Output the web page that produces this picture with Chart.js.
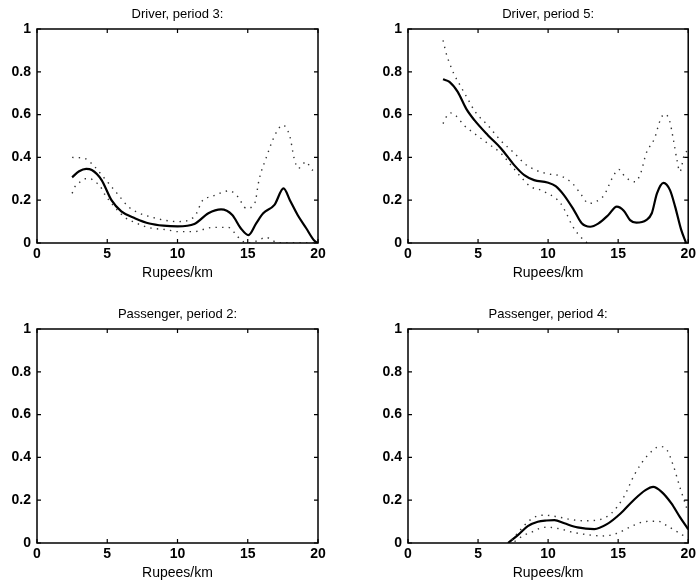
<!DOCTYPE html>
<html lang="en">
<head>
    <meta charset="UTF-8">
    <title>Fare response curves</title>
    <style>
        body { margin: 0; background: #fff; }
        #wrap { position: relative; width: 699px; height: 587px; }
        canvas.panel { position: absolute; }
    </style>
    <script src="https://cdn.jsdelivr.net/npm/chart.js"></script>
</head>
<body>
<div id="wrap">
    <canvas id="p1" class="panel" style="left:0;top:0" width="349" height="287"></canvas>
    <canvas id="p2" class="panel" style="left:349px;top:0" width="350" height="287"></canvas>
    <canvas id="p3" class="panel" style="left:0;top:300px" width="349" height="287"></canvas>
    <canvas id="p4" class="panel" style="left:349px;top:300px" width="350" height="287"></canvas>
</div>
<script>
    // Driver, period 3
    const dp3MidX = [2.5, 3, 3.5, 3.9, 4.6, 5.3, 6, 7, 8, 9, 10, 11.2, 12.2, 13.1, 13.9, 14.5, 15.05, 15.6, 16.1, 16.9, 17.55, 18, 18.55, 19.15, 19.75, 20];
    const dp3Mid  = [0.307, 0.335, 0.346, 0.341, 0.294, 0.20, 0.148, 0.115, 0.091, 0.081, 0.078, 0.089, 0.139, 0.157, 0.131, 0.069, 0.037, 0.092, 0.139, 0.178, 0.255, 0.20, 0.131, 0.07, 0.01, 0];
    const dp3UpX  = [2.5, 3.4, 4.1, 4.6, 5.1, 5.8, 6.5, 7.2, 8.2, 9.3, 10, 11.2, 11.8, 12.4, 13.7, 14.3, 14.9, 15.5, 15.8, 16.3, 17, 17.5, 18, 18.3, 18.6, 19.15, 19.6, 20];
    const dp3Up   = [0.40, 0.395, 0.357, 0.318, 0.279, 0.224, 0.17, 0.142, 0.12, 0.104, 0.10, 0.123, 0.20, 0.216, 0.244, 0.216, 0.162, 0.186, 0.294, 0.396, 0.513, 0.551, 0.497, 0.396, 0.349, 0.38, 0.341, 0.34];
    const dp3LoX  = [2.5, 2.7, 3, 3.4, 3.8, 4.1, 4.5, 4.7, 5.5, 6.25, 7, 7.9, 9.3, 10, 11.2, 11.7, 12.5, 13.6, 14.2, 14.5, 15.1, 15.8, 16.3, 16.7, 17.2, 20];
    const dp3Lo   = [0.232, 0.263, 0.282, 0.30, 0.30, 0.286, 0.266, 0.24, 0.17, 0.12, 0.095, 0.073, 0.061, 0.053, 0.053, 0.061, 0.073, 0.073, 0.037, 0.014, 0, 0.014, 0.027, 0.014, 0, 0];

    // Driver, period 5
    const dp5MidX = [2.5, 2.96, 3.55, 4.15, 4.74, 5.7, 6.64, 7.58, 8.3, 9.0, 9.95, 10.54, 11.13, 11.84, 12.4, 13.0, 13.6, 14.3, 14.9, 15.4, 15.85, 16.3, 17.0, 17.4, 17.77, 18.24, 18.7, 19.07, 19.5, 19.85];
    const dp5Mid  = [0.765, 0.753, 0.706, 0.628, 0.574, 0.504, 0.442, 0.364, 0.317, 0.294, 0.283, 0.266, 0.224, 0.154, 0.092, 0.076, 0.092, 0.131, 0.17, 0.151, 0.107, 0.095, 0.107, 0.139, 0.232, 0.281, 0.247, 0.169, 0.061, 0];
    const dp5UpX  = [2.5, 2.73, 3.0, 3.3, 3.65, 4.25, 4.8, 5.7, 6.6, 7.6, 8.3, 9.1, 10.0, 10.9, 11.7, 12.3, 12.9, 13.4, 14.0, 14.57, 15.04, 15.5, 16.2, 16.6, 17.0, 17.6, 18.0, 18.3, 18.66, 18.95, 19.2, 19.4, 19.75, 20];
    const dp5Up   = [0.947, 0.885, 0.834, 0.787, 0.745, 0.675, 0.613, 0.55, 0.48, 0.419, 0.372, 0.341, 0.323, 0.313, 0.281, 0.232, 0.185, 0.193, 0.224, 0.302, 0.344, 0.309, 0.286, 0.325, 0.419, 0.489, 0.574, 0.602, 0.574, 0.48, 0.387, 0.333, 0.419, 0.43];
    const dp5LoX  = [2.5, 2.73, 3.03, 3.43, 4.0, 4.74, 5.7, 6.64, 7.35, 8.05, 8.76, 9.5, 10.0, 10.4, 10.9, 11.3, 11.7, 12.2, 12.55, 12.8];
    const dp5Lo   = [0.558, 0.589, 0.608, 0.594, 0.55, 0.512, 0.465, 0.419, 0.364, 0.309, 0.263, 0.247, 0.23, 0.216, 0.185, 0.139, 0.084, 0.037, 0.014, 0];

    // Passenger, period 4
    const pp4MidX = [7.14, 7.84, 8.55, 9.26, 9.9, 10.45, 11.16, 12.1, 13.3, 14.2, 15.17, 16.1, 16.95, 17.5, 18.1, 18.8, 19.4, 20];
    const pp4Mid  = [0, 0.037, 0.079, 0.099, 0.105, 0.107, 0.092, 0.073, 0.065, 0.088, 0.138, 0.2, 0.247, 0.262, 0.239, 0.185, 0.122, 0.064];
    const pp4UpX  = [7.4, 8.0, 8.7, 9.26, 9.74, 10.7, 11.6, 12.6, 13.5, 14.5, 15.4, 16.2, 17.1, 18.0, 18.5, 18.97, 19.4, 19.9];
    const pp4Up   = [0.014, 0.06, 0.107, 0.127, 0.13, 0.122, 0.11, 0.104, 0.107, 0.138, 0.215, 0.324, 0.409, 0.451, 0.433, 0.355, 0.262, 0.161];
    const pp4LoX  = [7.6, 8.3, 8.9, 9.4, 9.9, 10.7, 11.9, 13.05, 14.0, 14.9, 15.9, 16.8, 17.8, 18.6, 19.2, 19.8];
    const pp4Lo   = [0.007, 0.037, 0.053, 0.068, 0.074, 0.068, 0.048, 0.037, 0.033, 0.045, 0.076, 0.099, 0.102, 0.076, 0.053, 0.029];

    const xTicks = [0, 5, 10, 15, 20];
    const yTicks = [0, 0.2, 0.4, 0.6, 0.8, 1];
    const xLabel = 'Rupees/km';

    const FONT = '"Liberation Sans", Arial, Helvetica, sans-serif';

    const pts = (xs, ys) => xs.map((x, i) => ({ x: x, y: ys[i] }));

    function solid(xs, ys) {
        return { data: pts(xs, ys), borderColor: '#000', borderWidth: 2.2, pointRadius: 0,
                 cubicInterpolationMode: 'monotone' };
    }
    function dotted(xs, ys) {
        return { data: pts(xs, ys), borderColor: '#333', borderWidth: 1.4, borderDash: [1.4, 5.2],
                 pointRadius: 0, cubicInterpolationMode: 'monotone' };
    }

    // box round the plot with inward tick marks, matlab style
    const boxTicks = {
        id: 'boxTicks',
        afterDraw(chart) {
            const { ctx, chartArea: a, scales: { x, y } } = chart;
            ctx.save();
            ctx.strokeStyle = '#000';
            ctx.lineWidth = 1.5;
            ctx.strokeRect(a.left, a.top, a.right - a.left, a.bottom - a.top);
            ctx.lineWidth = 1.2;
            ctx.beginPath();
            xTicks.forEach(v => {
                const px = x.getPixelForValue(v);
                ctx.moveTo(px, a.bottom); ctx.lineTo(px, a.bottom - 4);
                ctx.moveTo(px, a.top); ctx.lineTo(px, a.top + 4);
            });
            yTicks.forEach(v => {
                const py = y.getPixelForValue(v);
                ctx.moveTo(a.left, py); ctx.lineTo(a.left + 4, py);
                ctx.moveTo(a.right, py); ctx.lineTo(a.right - 4, py);
            });
            ctx.stroke();
            ctx.restore();
        }
    };

    function makePanel(id, title, yWidth, padRight, datasets) {
        return new Chart(document.getElementById(id), {
            type: 'line',
            data: { datasets: datasets },
            plugins: [boxTicks],
            options: {
                responsive: false,
                animation: false,
                layout: { padding: { left: 0, right: padRight, top: 0, bottom: 0 } },
                plugins: {
                    legend: { display: false },
                    tooltip: { enabled: false },
                    title: {
                        display: true, text: title, color: '#000', fullSize: false,
                        font: { family: FONT, size: 13, weight: 'normal' },
                        padding: { top: 7, bottom: 6.4 }
                    }
                },
                scales: {
                    x: {
                        type: 'linear', min: 0, max: 20,
                        afterBuildTicks: s => { s.ticks = xTicks.map(v => ({ value: v })); },
                        afterFit: s => { s.height = 44; },
                        grid: { display: false, drawTicks: false },
                        border: { display: false },
                        ticks: { color: '#000', padding: 3, maxRotation: 0,
                                 font: { family: FONT, size: 14, weight: 'bold' } },
                        title: { display: true, text: xLabel, color: '#000',
                                 font: { family: FONT, size: 14, weight: 'normal' },
                                 padding: { top: 0, bottom: 5 } }
                    },
                    y: {
                        type: 'linear', min: 0, max: 1,
                        afterBuildTicks: s => { s.ticks = yTicks.map(v => ({ value: v })); },
                        afterFit: s => { s.width = yWidth; },
                        grid: { display: false, drawTicks: false },
                        border: { display: false },
                        ticks: { color: '#000', padding: 6,
                                 callback: v => String(+v.toFixed(1)),
                                 font: { family: FONT, size: 14, weight: 'bold' } }
                    }
                }
            }
        });
    }

    makePanel('p1', 'Driver, period 3:', 37, 31, [
        dotted(dp3UpX, dp3Up), dotted(dp3LoX, dp3Lo), solid(dp3MidX, dp3Mid)
    ]);
    makePanel('p2', 'Driver, period 5:', 59, 9, [
        dotted(dp5UpX, dp5Up), dotted(dp5LoX, dp5Lo), solid(dp5MidX, dp5Mid)
    ]);
    makePanel('p3', 'Passenger, period 2:', 37, 31, []);
    makePanel('p4', 'Passenger, period 4:', 59, 9, [
        dotted(pp4UpX, pp4Up), dotted(pp4LoX, pp4Lo), solid(pp4MidX, pp4Mid)
    ]);
</script>
</body>
</html>
